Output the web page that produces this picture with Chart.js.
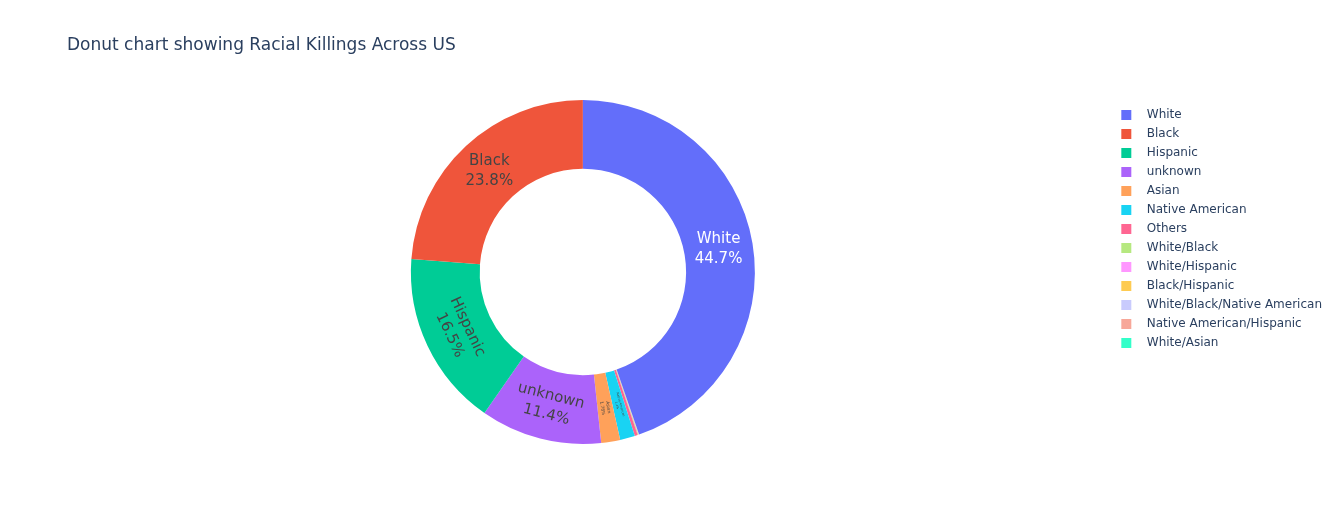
<!DOCTYPE html>
<html>
<head>
<meta charset="utf-8">
<script src="https://cdn.jsdelivr.net/npm/chart.js@4.4.1/dist/chart.umd.min.js"></script>
<style>
  html, body { margin: 0; padding: 0; background: #fff; }
  #wrap { width: 1340px; height: 525px; position: relative; }
</style>
</head>
<body>
<div id="wrap"><canvas id="c"></canvas></div>
<script>
// ---- data (legend order, as in the reference) ----
const categories = ['White', 'Black', 'Hispanic', 'unknown', 'Asian', 'Native American', 'Others',
  'White/Black', 'White/Hispanic', 'Black/Hispanic', 'White/Black/Native American',
  'Native American/Hispanic', 'White/Asian'];
const shares = [44.7, 23.8, 16.5, 11.4, 1.78, 1.40, 0.28, 0.06, 0.03, 0.02, 0.01, 0.01, 0.01];
const sliceColors = ['#636efa', '#EF553B', '#00cc96', '#ab63fa', '#FFA15A', '#19d3f3', '#FF6692',
  '#B6E880', '#FF97FF', '#FECB52', '#c9cbfd', '#f7a799', '#33ffc9'];
const chartTitle = 'Donut chart showing Racial Killings Across US';

// ---- label styles (orientation: h = horizontal, t = tangential, r = radial) ----
const labelStyle = {
  'White': { orient: 'h', size: 15, color: '#ffffff' },
  'Black': { orient: 'h', size: 15, color: '#444444' },
  'Hispanic': { orient: 't', size: 15, color: '#444444' },
  'unknown': { orient: 't', size: 15, color: '#444444' },
  'Asian': { orient: 'r', size: 4.5, color: '#444444' },
  'Native American': { orient: 'r', size: 3, color: '#444444' }
};

// Plotly draws these counter-clockwise; Chart.js draws clockwise, so reverse for drawing
const drawLabels = categories.slice().reverse();
const drawValues = shares.slice().reverse();
const drawColors = sliceColors.slice().reverse();
const total = shares.reduce((a, b) => a + b, 0);
const startRotation = 360 * shares[0] / total;

const FONT = "'DejaVu Sans', Verdana, sans-serif";

const swatchCache = {};
function swatch(color) {
  if (swatchCache[color]) return swatchCache[color];
  const cv = document.createElement('canvas');
  cv.width = 36; cv.height = 10;
  const g = cv.getContext('2d');
  g.fillStyle = color;
  g.fillRect(16, 0, 10, 10);
  swatchCache[color] = cv;
  return cv;
}

const sliceLabels = {
  id: 'sliceLabels',
  afterDatasetsDraw(chart) {
    const ctx = chart.ctx;
    const meta = chart.getDatasetMeta(0);
    const ds = chart.data.datasets[0];
    const sum = ds.data.reduce((a, b) => a + b, 0);
    meta.data.forEach((arc, i) => {
      const name = chart.data.labels[i];
      const st = labelStyle[name];
      if (!st) return;
      const p = arc.getProps(['x', 'y', 'startAngle', 'endAngle', 'innerRadius', 'outerRadius'], true);
      const a = (p.startAngle + p.endAngle) / 2;
      const r = (p.innerRadius + p.outerRadius) / 2;
      const cx = p.x + r * Math.cos(a);
      const cy = p.y + r * Math.sin(a);
      let rot = 0;
      if (st.orient === 't') rot = a - Math.PI / 2;
      else if (st.orient === 'r') rot = a;
      while (rot > Math.PI / 2) rot -= Math.PI;
      while (rot < -Math.PI / 2) rot += Math.PI;
      const pct = ds.data[i] / sum * 100;
      const lines = [name, String(Number(pct.toPrecision(3))) + '%'];
      const lh = st.size * 1.3;
      ctx.save();
      ctx.translate(cx, cy);
      ctx.rotate(rot);
      ctx.font = st.size + 'px ' + FONT;
      ctx.fillStyle = st.color;
      ctx.textAlign = 'center';
      ctx.textBaseline = 'middle';
      lines.forEach((t, k) => {
        ctx.fillText(t, 0, (k - (lines.length - 1) / 2) * lh);
      });
      ctx.restore();
    });
  }
};

new Chart(document.getElementById('c'), {
  type: 'doughnut',
  data: {
    labels: drawLabels,
    datasets: [{
      data: drawValues,
      backgroundColor: drawColors,
      borderWidth: 0,
      hoverOffset: 0
    }]
  },
  options: {
    responsive: true,
    maintainAspectRatio: false,
    animation: false,
    devicePixelRatio: 1,
    rotation: startRotation,
    cutout: '60%',
    layout: { padding: { left: 67, right: 8, top: 0, bottom: 81 } },
    plugins: {
      title: {
        display: true,
        text: chartTitle,
        align: 'start',
        color: '#2a3f5f',
        font: { family: FONT, size: 17, weight: 'normal' },
        padding: { top: 35, bottom: 44.6 }
      },
      legend: {
        display: true,
        position: 'right',
        align: 'start',
        fullSize: false,
        reverse: true,
        title: { display: true, text: '', padding: { top: 2, bottom: 0 }, font: { family: FONT, size: 0.01 } },
        labels: {
          usePointStyle: true,
          pointStyleWidth: 35,
          boxHeight: 10,
          padding: 7,
          color: '#2a3f5f',
          font: { family: FONT, size: 12 },
          generateLabels(chart) {
            const ds = chart.data.datasets[0];
            return chart.data.labels.map((t, i) => ({
              text: t,
              fillStyle: ds.backgroundColor[i],
              strokeStyle: ds.backgroundColor[i],
              lineWidth: 0,
              pointStyle: swatch(ds.backgroundColor[i]),
              fontColor: '#2a3f5f',
              hidden: !chart.getDataVisibility(i),
              index: i
            }));
          }
        }
      },
      tooltip: { enabled: false }
    }
  },
  plugins: [sliceLabels]
});
</script>
</body>
</html>
